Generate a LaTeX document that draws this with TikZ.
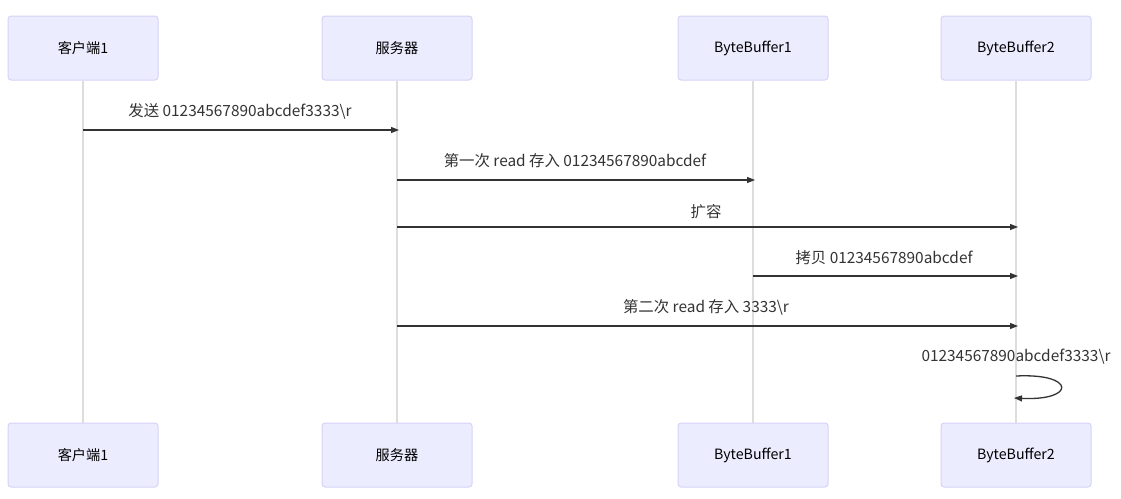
\documentclass[tikz,border=0pt]{standalone}
\usepackage{fontspec}
\setmainfont{Noto Sans CJK SC}
\usetikzlibrary{arrows.meta}
\definecolor{boxfill}{HTML}{ECECFF}
\definecolor{boxdraw}{HTML}{D6D3F7}
\definecolor{lifeline}{HTML}{DDDDDD}
\definecolor{msgline}{HTML}{333333}
\tikzset{
  actor/.style={draw=boxdraw, line width=1pt, fill=boxfill, rounded corners=3pt,
    minimum width=150pt, minimum height=64pt, inner sep=0pt,
    font=\fontsize{14.2pt}{16pt}\selectfont, text=black},
  life/.style={draw=lifeline, line width=1.6pt},
  msg/.style={draw=msgline, line width=1.3pt, -{Triangle[length=8pt,width=6pt]}},
  lbl/.style={font=\fontsize{15.4pt}{17pt}\selectfont, text=msgline, inner sep=0pt},
}
\begin{document}
\begin{tikzpicture}[x=1pt,y=-1pt]
\useasboundingbox (0,0) rectangle (1121,498);
% actors top
\node[actor] (c1t) at (83,48) {客户端1};
\node[actor] (svt) at (397,48) {服务器};
\node[actor] (b1t) at (753,48) {ByteBuffer1};
\node[actor] (b2t) at (1016,48) {ByteBuffer2};
% actors bottom
\node[actor] (c1b) at (83,455) {客户端1};
\node[actor] (svb) at (397,455) {服务器};
\node[actor] (b1b) at (753,455) {ByteBuffer1};
\node[actor] (b2b) at (1016,455) {ByteBuffer2};
% lifelines
\draw[life] (c1t.south) -- (c1b.north);
\draw[life] (svt.south) -- (svb.north);
\draw[life] (b1t.south) -- (b1b.north);
\draw[life] (b2t.south) -- (b2b.north);
% message points
\coordinate (m1a) at (83,130);  \coordinate (m1b) at (399,130);
\coordinate (m2a) at (397,180); \coordinate (m2b) at (755,180);
\coordinate (m3a) at (397,227); \coordinate (m3b) at (1018,227);
\coordinate (m4a) at (753,276); \coordinate (m4b) at (1018,276);
\coordinate (m5a) at (397,326); \coordinate (m5b) at (1018,326);
\coordinate (m6a) at (1016,376); \coordinate (m6b) at (1014,398);
% messages
\draw[msg] (m1a) -- (m1b);
\draw[msg] (m2a) -- (m2b);
\draw[msg] (m3a) -- (m3b);
\draw[msg] (m4a) -- (m4b);
\draw[msg] (m5a) -- (m5b);
\draw[msg] (m6a) .. controls (1076,373) and (1076,401) .. (m6b);
% labels
\node[lbl] (l1) at (240,111) {发送 01234567890abcdef3333\textbackslash r};
\node[lbl] (l2) at (575,161) {第一次 read 存入 01234567890abcdef};
\node[lbl] (l3) at (706,212) {扩容};
\node[lbl] (l4) at (884,258) {拷贝 01234567890abcdef};
\node[lbl] (l5) at (706,307) {第二次 read 存入 3333\textbackslash r};
\node[lbl] (l6) at (1016,357) {01234567890abcdef3333\textbackslash r};
\end{tikzpicture}
\end{document}
